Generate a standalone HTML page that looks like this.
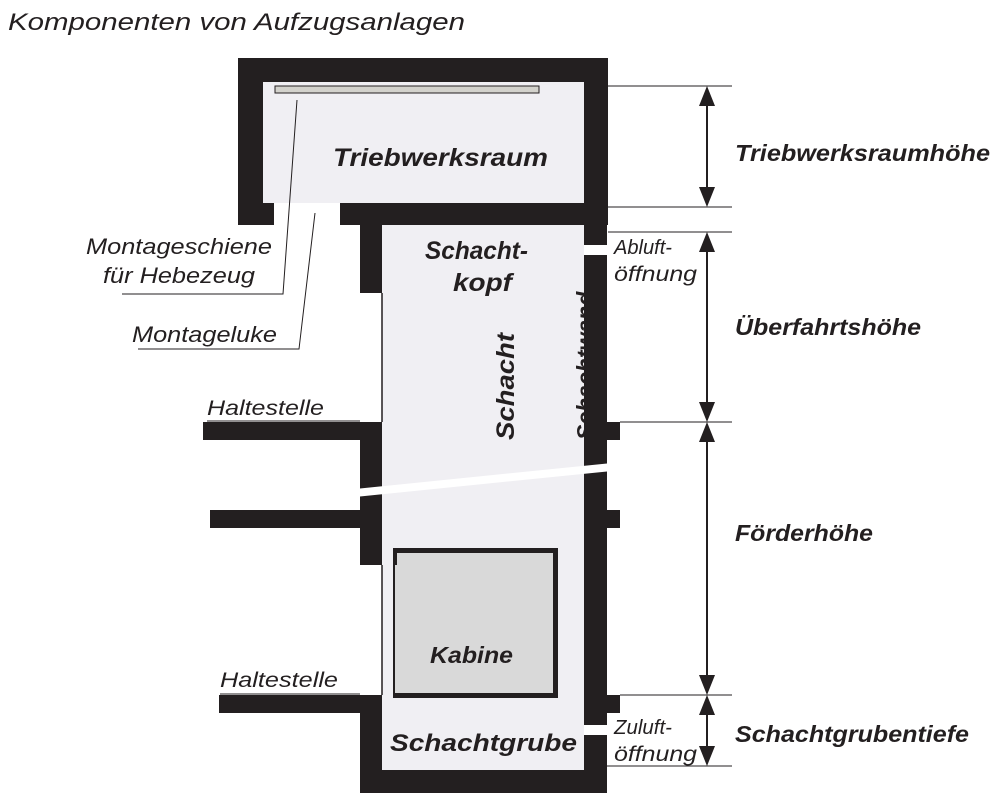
<!DOCTYPE html>
<html><head><meta charset="utf-8"><style>
html,body{margin:0;padding:0;background:#fff;}
svg{display:block;}
text{font-family:"Liberation Sans",Arial,sans-serif;font-style:italic;fill:#231f20;}
.b{font-weight:bold;}
</style></head><body>
<svg width="1000" height="808" viewBox="0 0 1000 808" xmlns="http://www.w3.org/2000/svg">
<text x="8" y="30" font-size="24" textLength="457" lengthAdjust="spacingAndGlyphs">Komponenten von Aufzugsanlagen</text>
<rect x="238" y="58" width="370" height="167" fill="#231f20"/>
<rect x="263" y="82" width="321" height="121" fill="#f0eff3"/>
<rect x="274" y="203" width="66" height="25" fill="#fff"/>
<rect x="275" y="86" width="264" height="7" fill="#d3d2cc" stroke="#231f20" stroke-width="1"/>
<text x="333" y="166" font-size="25" class="b" textLength="215" lengthAdjust="spacingAndGlyphs">Triebwerksraum</text>
<rect x="360" y="225" width="247" height="568" fill="#231f20"/>
<rect x="382" y="225" width="202" height="545" fill="#f0eff3"/>
<rect x="360" y="293" width="22" height="129" fill="#fff"/>
<rect x="360" y="565" width="22" height="130" fill="#fff"/>
<line x1="382" y1="293" x2="382" y2="422" stroke="#231f20" stroke-width="1.5"/>
<line x1="382" y1="565" x2="382" y2="695" stroke="#231f20" stroke-width="1.5"/>
<text transform="translate(593,440) rotate(-90)" font-size="23" class="b">Schachtwand</text>
<rect x="588" y="255" width="19" height="215" fill="#231f20"/>
<rect x="203" y="422" width="157" height="18" fill="#231f20"/>
<rect x="210" y="510" width="150" height="18" fill="#231f20"/>
<rect x="219" y="695" width="141" height="18" fill="#231f20"/>
<rect x="607" y="422" width="13" height="18" fill="#231f20"/>
<rect x="607" y="510" width="13" height="18" fill="#231f20"/>
<rect x="607" y="695" width="13" height="18" fill="#231f20"/>
<rect x="584" y="245" width="30" height="10" fill="#fff"/>
<rect x="584" y="725" width="30" height="10" fill="#fff"/>
<polygon points="355,489 612,463 612,471 355,497" fill="#fff"/>
<rect x="393" y="548" width="165" height="150" fill="#231f20"/>
<rect x="395" y="553" width="158" height="140" fill="#d9d9d9"/>
<rect x="393" y="548" width="4" height="17" fill="#231f20"/>
<text x="430" y="663" font-size="23" class="b" textLength="83" lengthAdjust="spacingAndGlyphs">Kabine</text>
<text x="425" y="259" font-size="25" class="b" textLength="103" lengthAdjust="spacingAndGlyphs">Schacht-</text>
<text x="453" y="291" font-size="25" class="b" textLength="59" lengthAdjust="spacingAndGlyphs">kopf</text>
<text transform="translate(514,440) rotate(-90)" font-size="25" class="b" textLength="107" lengthAdjust="spacingAndGlyphs">Schacht</text>
<text x="390" y="751" font-size="24" class="b" textLength="187" lengthAdjust="spacingAndGlyphs">Schachtgrube</text>
<polyline points="297,100 283,294 122,294" fill="none" stroke="#231f20" stroke-width="1"/>
<polyline points="315,213 299,349 138,349" fill="none" stroke="#231f20" stroke-width="1"/>
<line x1="207" y1="421" x2="360" y2="421" stroke="#231f20" stroke-width="1"/>
<line x1="220" y1="694" x2="360" y2="694" stroke="#231f20" stroke-width="1"/>
<text x="86" y="254" font-size="22" textLength="186" lengthAdjust="spacingAndGlyphs">Montageschiene</text>
<text x="103" y="283" font-size="22" textLength="152" lengthAdjust="spacingAndGlyphs">für Hebezeug</text>
<text x="132" y="342" font-size="22" textLength="145" lengthAdjust="spacingAndGlyphs">Montageluke</text>
<text x="207" y="415" font-size="21" textLength="117" lengthAdjust="spacingAndGlyphs">Haltestelle</text>
<text x="220" y="687" font-size="21" textLength="118" lengthAdjust="spacingAndGlyphs">Haltestelle</text>
<text x="614" y="254" font-size="20" textLength="58" lengthAdjust="spacingAndGlyphs">Abluft-</text>
<text x="614" y="281" font-size="21" textLength="83" lengthAdjust="spacingAndGlyphs">öffnung</text>
<text x="614" y="734" font-size="20" textLength="58" lengthAdjust="spacingAndGlyphs">Zuluft-</text>
<text x="614" y="761" font-size="21" textLength="83" lengthAdjust="spacingAndGlyphs">öffnung</text>
<g stroke="#231f20" stroke-width="1">
<line x1="608" y1="86" x2="732" y2="86"/>
<line x1="608" y1="207" x2="732" y2="207"/>
<line x1="608" y1="232" x2="732" y2="232"/>
<line x1="620" y1="422" x2="732" y2="422"/>
<line x1="620" y1="695" x2="732" y2="695"/>
<line x1="606" y1="766" x2="732" y2="766"/>
<line x1="707" y1="90" x2="707" y2="203" stroke-width="2"/>
<line x1="707" y1="236" x2="707" y2="418" stroke-width="2"/>
<line x1="707" y1="426" x2="707" y2="691" stroke-width="2"/>
<line x1="707" y1="699" x2="707" y2="762" stroke-width="2"/>
</g>
<g fill="#231f20">
<polygon points="707,86 699,106 715,106"/><polygon points="707,207 699,187 715,187"/>
<polygon points="707,232 699,252 715,252"/><polygon points="707,422 699,402 715,402"/>
<polygon points="707,422 699,442 715,442"/><polygon points="707,695 699,675 715,675"/>
<polygon points="707,695 699,715 715,715"/><polygon points="707,766 699,746 715,746"/>
</g>
<text x="735" y="161" font-size="23" class="b" textLength="255" lengthAdjust="spacingAndGlyphs">Triebwerksraumhöhe</text>
<text x="735" y="335" font-size="23" class="b" textLength="186" lengthAdjust="spacingAndGlyphs">Überfahrtshöhe</text>
<text x="735" y="541" font-size="23" class="b" textLength="138" lengthAdjust="spacingAndGlyphs">Förderhöhe</text>
<text x="735" y="742" font-size="23" class="b" textLength="234" lengthAdjust="spacingAndGlyphs">Schachtgrubentiefe</text>
</svg>
</body></html>
